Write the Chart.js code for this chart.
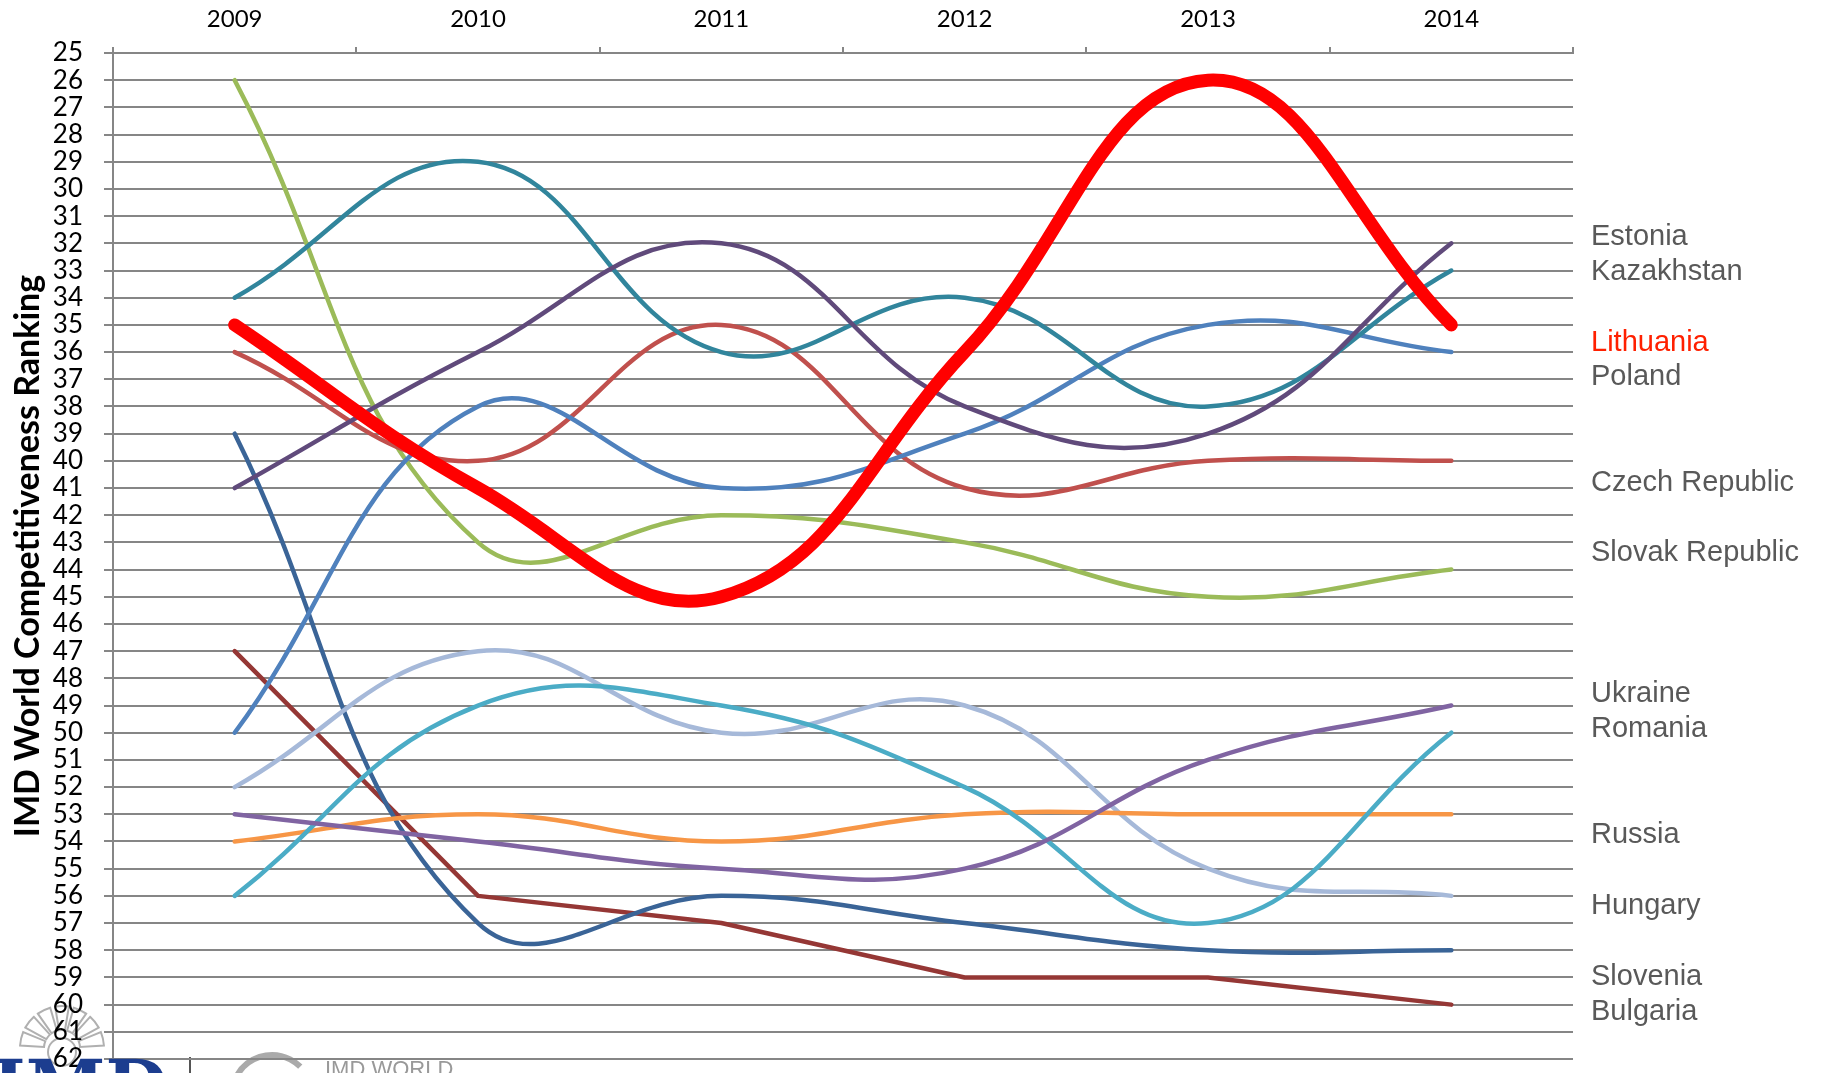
<!DOCTYPE html>
<html>
<head>
<meta charset="utf-8">
<script src="https://cdn.jsdelivr.net/npm/chart.js@4"></script>
<style>
  body { margin: 0; background: #fff; }
  #wrap { width: 1821px; height: 1073px; position: relative; }
</style>
</head>
<body>
<div id="wrap"><canvas id="chart"></canvas></div>
<script>
const years = ["2009", "2010", "2011", "2012", "2013", "2014"];

const estonia = [41, 36, 32, 38, 39, 32];
const kazakhstan = [34, 29, 36, 34, 38, 33];
const lithuania = [35, 41, 45, 36, 26, 35];
const poland = [50, 38, 41, 39, 35, 36];
const czech = [36, 40, 35, 41, 40, 40];
const slovak = [26, 43, 42, 43, 45, 44];
const ukraine = [53, 54, 55, 55, 51, 49];
const romania = [56, 49, 49, 52, 57, 50];
const russia = [54, 53, 54, 53, 53, 53];
const hungary = [52, 47, 50, 49, 55, 56];
const slovenia = [39, 57, 56, 57, 58, 58];
const bulgaria = [47, 56, 57, 59, 59, 60];

const rankMin = 25;
const rankMax = 62;

const gridGray = "#868686";

function series(label, data, color, extra) {
  return Object.assign({
    label: label,
    data: data,
    borderColor: color,
    backgroundColor: color,
    borderWidth: 4.5,
    tension: 0.42,
    pointRadius: 0,
    borderCapStyle: "round",
    borderJoinStyle: "round",
    fill: false,
  }, extra || {});
}

// country names at the right, rank used only to place the text
const sideLabels = [
  ["Estonia", 31.77, "#595959"],
  ["Kazakhstan", 33.06, "#595959"],
  ["Lithuania", 35.67, "#FF2000"],
  ["Poland", 36.92, "#595959"],
  ["Czech Republic", 40.8, "#595959"],
  ["Slovak Republic", 43.4, "#595959"],
  ["Ukraine", 48.58, "#595959"],
  ["Romania", 49.87, "#595959"],
  ["Russia", 53.76, "#595959"],
  ["Hungary", 56.37, "#595959"],
  ["Slovenia", 58.98, "#595959"],
  ["Bulgaria", 60.27, "#595959"],
];

const sideLabelPlugin = {
  id: "sideLabels",
  afterDraw(chart) {
    const ctx = chart.ctx;
    const y = chart.scales.y;
    ctx.save();
    ctx.font = '29px "Liberation Sans", Arial, sans-serif';
    ctx.textAlign = "left";
    ctx.textBaseline = "middle";
    sideLabels.forEach(function (l) {
      ctx.fillStyle = l[2];
      ctx.fillText(l[0], chart.chartArea.right + 18, y.getPixelForValue(l[1]));
    });
    ctx.restore();
  },
};

// the cut-off IMD logo strip at the bottom left
const logoPlugin = {
  id: "logo",
  beforeDraw(chart) {
    const ctx = chart.ctx;
    ctx.save();
    // fan emblem
    ctx.strokeStyle = "#b0b0b0";
    ctx.lineWidth = 2;
    const cx = 62, cy = 1048;
    const n = 7;
    for (let i = 0; i < n; i++) {
      const a0 = Math.PI + (i / n) * Math.PI + 0.06;
      const a1 = Math.PI + ((i + 1) / n) * Math.PI - 0.06;
      ctx.beginPath();
      ctx.arc(cx, cy, 42, a0, a1);
      ctx.arc(cx, cy, 18, a1, a0, true);
      ctx.closePath();
      ctx.stroke();
    }
    ctx.beginPath();
    ctx.arc(cx, cy + 4, 14, 0, Math.PI * 2);
    ctx.stroke();
    // separator and arc
    ctx.strokeStyle = "#555";
    ctx.lineWidth = 2;
    ctx.beginPath();
    ctx.moveTo(190, 1057);
    ctx.lineTo(190, 1073);
    ctx.stroke();
    ctx.strokeStyle = "#aaa";
    ctx.lineWidth = 6;
    ctx.beginPath();
    ctx.arc(272, 1095, 40, Math.PI * 1.15, Math.PI * 1.75);
    ctx.stroke();
    ctx.restore();
  },
  afterDraw(chart) {
    const ctx = chart.ctx;
    ctx.save();
    ctx.fillStyle = "#1C3D8F";
    ctx.font = 'bold 72px "DejaVu Serif", serif';
    ctx.textBaseline = "alphabetic";
    ctx.fillText("IMD", -8, 1112);
    ctx.fillStyle = "#999";
    ctx.font = '22px "Liberation Sans", Arial, sans-serif';
    ctx.textBaseline = "top";
    ctx.fillText("IMD WORLD", 325, 1059);
    ctx.restore();
  },
};

new Chart(document.getElementById("chart"), {
  type: "line",
  data: {
    labels: years,
    datasets: [
      series("Lithuania", lithuania, "#FF0000", { borderWidth: 13, order: -1 }),
      series("Estonia", estonia, "#604A7B"),
      series("Kazakhstan", kazakhstan, "#31859C"),
      series("Poland", poland, "#4F81BD"),
      series("Czech Republic", czech, "#C0504D"),
      series("Slovak Republic", slovak, "#9BBB59"),
      series("Ukraine", ukraine, "#8064A2"),
      series("Romania", romania, "#4BACC6"),
      series("Russia", russia, "#F79646"),
      series("Hungary", hungary, "#A6B9D9"),
      series("Slovenia", slovenia, "#3A6497"),
      series("Bulgaria", bulgaria, "#953735", { tension: 0 }),
    ],
  },
  options: {
    responsive: true,
    maintainAspectRatio: false,
    animation: false,
    layout: { padding: { left: 0, right: 248, top: 0, bottom: 14 } },
    plugins: {
      legend: { display: false },
      tooltip: { enabled: false },
    },
    scales: {
      x: {
        position: "top",
        offset: true,
        afterFit(scale) {
          scale.height = 53;
          scale.paddingLeft = 0;
          scale.paddingRight = 0;
        },
        grid: {
          offset: true,
          drawOnChartArea: false,
          drawTicks: true,
          tickLength: 6,
          color: gridGray,
          lineWidth: 2,
        },
        border: { display: true, color: gridGray, width: 2 },
        ticks: {
          color: "#000",
          padding: 13,
          font: { family: "Lato", size: 24 },
        },
      },
      y: {
        reverse: true,
        min: rankMin,
        max: rankMax,
        afterFit(scale) {
          scale.width = 113;
          scale.paddingTop = 0;
          scale.paddingBottom = 0;
        },
        grid: {
          color: gridGray,
          lineWidth: 2,
          tickLength: 9,
        },
        border: { display: true, color: gridGray, width: 2 },
        ticks: {
          stepSize: 1,
          autoSkip: false,
          color: "#000",
          padding: 21,
          font: { family: "Lato", size: 26 },
        },
        title: {
          display: true,
          text: "IMD World Competitiveness Ranking",
          color: "#000",
          padding: { top: 8, bottom: 0 },
          font: { family: "Lato", size: 34, weight: "bold" },
        },
      },
    },
  },
  plugins: [sideLabelPlugin, logoPlugin],
});
</script>
</body>
</html>
